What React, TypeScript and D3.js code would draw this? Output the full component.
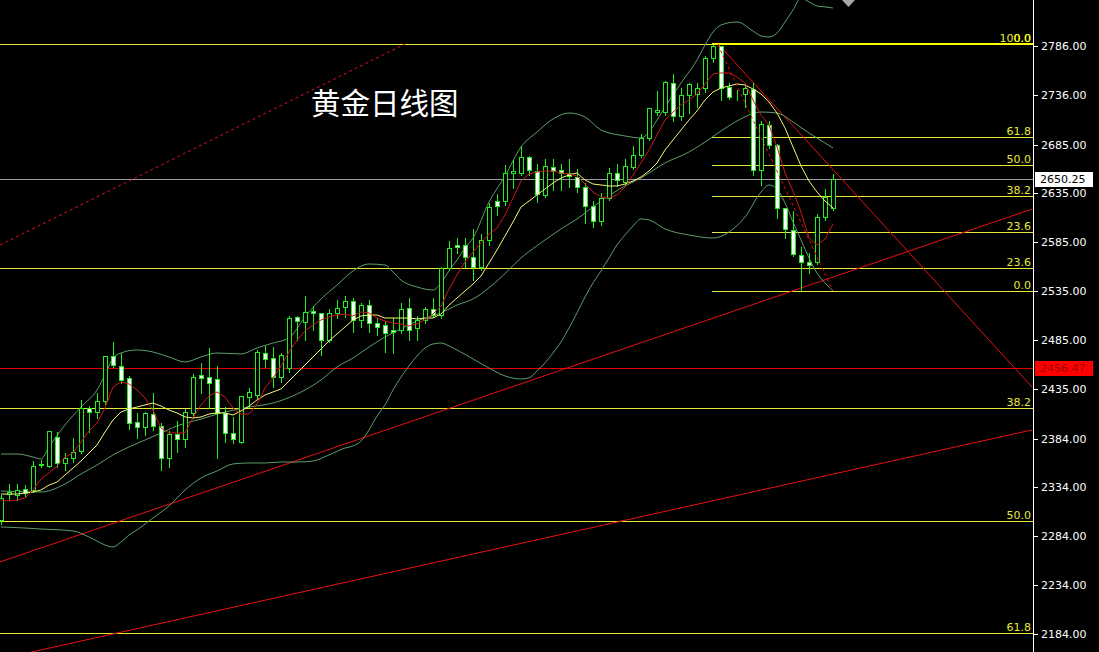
import React from 'react';
import * as d3 from 'd3';

const W = 1099;
const H = 652;
const PLOT_R = 1033;

// ---------- candles (price) ----------
const opens = [
  2300.7, 2327.3, 2326.3, 2332.5, 2331.4, 2357.0, 2356.0, 2385.7, 2359.1, 2364.2,
  2371.4, 2415.4, 2411.3, 2422.6, 2468.6, 2458.4, 2446.1, 2401.1, 2395.9, 2409.2,
  2397.0, 2364.2, 2388.8, 2383.7, 2410.3, 2449.2, 2447.1, 2445.1, 2410.3, 2389.8,
  2380.6, 2426.7, 2428.7, 2471.7, 2466.6, 2447.1, 2456.3, 2508.6, 2503.4, 2514.7,
  2512.7, 2485.0, 2512.7, 2518.8, 2524.9, 2505.5, 2520.8, 2502.4, 2500.4, 2495.2,
  2495.2, 2517.8, 2497.3, 2505.5, 2516.7, 2510.6, 2558.7, 2582.3, 2582.3, 2570.0,
  2559.7, 2587.4, 2627.3, 2627.3, 2656.0, 2656.0, 2672.4, 2658.0, 2633.5, 2662.1,
  2659.1, 2656.0, 2651.9, 2641.6, 2622.2, 2606.8, 2630.4, 2656.0, 2646.8, 2662.1,
  2674.4, 2691.8, 2718.4, 2718.4, 2748.1, 2714.3, 2735.8, 2736.9, 2743.0, 2773.7,
  2786.0, 2744.0, 2736.9, 2736.9, 2742.0, 2659.1, 2705.1, 2684.6, 2620.2, 2597.6,
  2572.0, 2564.9, 2564.9, 2610.9, 2620.2,
];
const highs = [
  2327.3, 2338.6, 2338.6, 2337.6, 2362.2, 2363.2, 2392.9, 2391.8, 2370.3, 2385.7,
  2424.6, 2418.5, 2431.8, 2469.7, 2484.0, 2472.7, 2449.2, 2411.3, 2412.3, 2431.8,
  2401.1, 2392.9, 2403.1, 2415.4, 2451.2, 2462.5, 2477.8, 2459.4, 2417.4, 2407.2,
  2428.7, 2436.9, 2475.8, 2479.9, 2478.9, 2472.7, 2510.6, 2510.6, 2531.1, 2520.8,
  2513.7, 2517.8, 2527.0, 2531.1, 2529.0, 2523.9, 2527.0, 2508.6, 2505.5, 2508.6,
  2523.9, 2529.0, 2510.6, 2519.8, 2529.0, 2560.8, 2587.4, 2590.5, 2590.5, 2599.7,
  2594.6, 2626.3, 2635.5, 2665.2, 2670.3, 2684.6, 2674.4, 2666.2, 2671.3, 2671.3,
  2666.2, 2671.3, 2661.1, 2646.8, 2628.3, 2636.5, 2662.1, 2666.2, 2671.3, 2684.6,
  2696.9, 2723.6, 2741.0, 2751.2, 2758.4, 2744.0, 2749.1, 2749.1, 2776.8, 2788.1,
  2787.0, 2749.1, 2742.0, 2748.1, 2749.1, 2710.2, 2710.2, 2686.7, 2621.2, 2618.1,
  2581.2, 2575.1, 2615.0, 2640.6, 2656.0,
];
const lows = [
  2296.6, 2321.2, 2321.2, 2324.3, 2329.4, 2355.0, 2355.0, 2355.0, 2351.9, 2360.1,
  2369.3, 2390.8, 2405.2, 2419.5, 2457.4, 2441.0, 2393.9, 2384.7, 2387.7, 2392.9,
  2351.9, 2355.0, 2370.3, 2375.5, 2405.2, 2430.7, 2415.4, 2364.2, 2380.6, 2379.6,
  2379.6, 2416.4, 2425.6, 2457.4, 2436.9, 2442.0, 2452.2, 2485.0, 2485.0, 2495.2,
  2469.7, 2483.0, 2507.5, 2508.6, 2493.2, 2498.3, 2493.2, 2490.1, 2472.7, 2471.7,
  2492.2, 2485.0, 2485.0, 2502.4, 2508.6, 2507.5, 2556.7, 2574.1, 2559.7, 2546.4,
  2556.7, 2582.3, 2613.0, 2623.2, 2640.6, 2653.9, 2653.9, 2626.3, 2631.4, 2638.6,
  2638.6, 2641.6, 2636.5, 2604.8, 2600.7, 2602.7, 2628.3, 2642.7, 2643.7, 2660.1,
  2672.4, 2689.8, 2715.4, 2715.4, 2709.2, 2710.2, 2717.4, 2723.6, 2738.9, 2769.6,
  2730.7, 2731.7, 2730.7, 2723.6, 2653.9, 2643.7, 2681.6, 2609.9, 2589.4, 2571.0,
  2536.2, 2553.6, 2562.8, 2607.9, 2618.1,
];
const closes = [
  2323.2, 2329.4, 2331.4, 2328.4, 2356.0, 2358.1, 2391.8, 2359.1, 2364.2, 2370.3,
  2415.4, 2411.3, 2422.6, 2468.6, 2459.4, 2444.1, 2400.0, 2395.9, 2410.3, 2397.0,
  2364.2, 2388.8, 2383.7, 2411.3, 2447.1, 2446.1, 2441.0, 2410.3, 2389.8, 2383.7,
  2427.7, 2431.8, 2472.7, 2465.6, 2447.1, 2469.7, 2507.5, 2504.5, 2513.7, 2512.7,
  2485.0, 2512.7, 2517.8, 2524.9, 2505.5, 2520.8, 2502.4, 2498.3, 2492.2, 2493.2,
  2516.7, 2495.2, 2505.5, 2516.7, 2510.6, 2558.7, 2579.2, 2580.2, 2570.0, 2559.7,
  2587.4, 2621.2, 2622.2, 2656.0, 2658.0, 2672.4, 2659.1, 2634.5, 2663.2, 2658.0,
  2656.0, 2652.9, 2641.6, 2622.2, 2606.8, 2630.4, 2656.0, 2648.8, 2663.2, 2674.4,
  2691.8, 2722.5, 2720.5, 2749.1, 2714.3, 2735.8, 2747.1, 2743.0, 2773.7, 2786.0,
  2743.0, 2733.8, 2736.5, 2743.0, 2659.1, 2706.2, 2684.6, 2620.2, 2598.7, 2573.1,
  2564.9, 2561.8, 2610.9, 2631.4, 2650.25,
];

// ---------- indicator lines ----------
const maRed = [
  2321.2, 2320.2, 2321.2, 2323.2, 2331.4, 2342.7, 2348.9, 2356.0, 2365.2, 2369.3,
  2380.6, 2391.8, 2400.0, 2415.4, 2436.9, 2442.0, 2440.0, 2433.8, 2425.6, 2413.3,
  2394.9, 2389.8, 2389.8, 2389.8, 2405.2, 2418.5, 2427.7, 2431.8, 2426.7, 2415.4,
  2409.2, 2409.2, 2419.5, 2435.9, 2446.1, 2458.4, 2472.7, 2485.0, 2494.2, 2500.4,
  2505.5, 2508.6, 2510.6, 2511.6, 2509.6, 2513.7, 2512.7, 2507.5, 2504.5, 2502.4,
  2501.4, 2499.3, 2501.4, 2505.5, 2511.6, 2519.8, 2537.2, 2551.6, 2564.9, 2575.1,
  2584.3, 2593.5, 2599.7, 2613.0, 2630.4, 2647.8, 2655.0, 2657.0, 2658.0, 2658.0,
  2656.0, 2655.0, 2652.9, 2644.7, 2636.5, 2631.4, 2630.4, 2633.5, 2641.6, 2653.9,
  2666.2, 2679.5, 2694.9, 2710.2, 2718.4, 2725.6, 2730.7, 2736.9, 2747.1, 2757.3,
  2758.4, 2758.4, 2754.3, 2748.1, 2730.7, 2715.4, 2705.1, 2682.6, 2656.0, 2637.5,
  2616.0, 2589.4, 2582.3, 2588.4, 2603.8,
];
const maYellow = [
  2327.3, 2327.3, 2327.3, 2328.4, 2329.4, 2331.4, 2336.5, 2339.6, 2346.8, 2353.9,
  2361.1, 2369.3, 2377.5, 2390.8, 2403.1, 2411.3, 2414.4, 2416.4, 2418.5, 2420.5,
  2417.4, 2413.3, 2410.3, 2406.2, 2405.2, 2406.2, 2409.2, 2410.3, 2410.3, 2408.2,
  2412.3, 2417.4, 2423.6, 2428.7, 2431.8, 2434.9, 2443.0, 2451.2, 2459.4, 2467.6,
  2475.8, 2484.0, 2491.2, 2498.3, 2505.5, 2509.6, 2510.6, 2510.6, 2507.5, 2507.5,
  2507.5, 2507.5, 2506.5, 2507.5, 2507.5, 2511.6, 2520.8, 2528.0, 2535.2, 2542.3,
  2550.5, 2563.8, 2577.2, 2591.5, 2605.8, 2621.2, 2627.3, 2633.5, 2639.6, 2645.7,
  2650.9, 2653.9, 2656.0, 2648.8, 2644.7, 2643.7, 2642.7, 2642.7, 2644.7, 2647.8,
  2651.9, 2658.0, 2666.2, 2679.5, 2689.8, 2700.0, 2710.2, 2719.5, 2730.7, 2738.9,
  2743.0, 2745.1, 2747.1, 2746.1, 2742.0, 2736.9, 2728.7, 2717.4, 2702.1, 2682.6,
  2663.2, 2647.8, 2636.5, 2627.3, 2620.2,
];
// Bollinger bands: [candle index, price]
const bbMid: [number, number][] = [
  [0, 2330.4], [5, 2329.4], [8, 2337.6], [10, 2347.8], [12, 2357.0], [14, 2367.3], [16, 2375.5],
  [18, 2382.6], [20, 2389.8], [22, 2397.0], [25, 2404.1], [28, 2411.3], [31, 2416.4], [34, 2420.5],
  [37, 2429.7], [40, 2444.1], [42, 2457.4], [44, 2466.6], [46, 2477.8], [48, 2488.1], [50, 2496.3],
  [52, 2504.5], [55, 2512.7], [57, 2520.8], [59, 2527.0], [62, 2545.4], [65, 2569.0], [68, 2587.4],
  [70, 2598.7], [72, 2608.9], [75, 2627.3], [78, 2642.7], [80, 2650.9], [83, 2666.2], [86, 2677.5],
  [88, 2687.7], [90, 2699.0], [92, 2709.2], [95, 2718.4], [97, 2717.4], [99, 2708.2], [101, 2696.9],
  [103, 2686.7], [104, 2681.6],
];
const bbUpper: [number, number][] = [
  [0, 2368.3], [2, 2368.3], [4, 2365.2], [5, 2363.2], [6, 2375.5], [8, 2398.0], [10, 2416.4],
  [12, 2433.8], [13, 2449.2], [14, 2466.6], [15, 2471.7], [17, 2474.8], [19, 2472.7], [21, 2467.6],
  [23, 2462.5], [25, 2467.6], [27, 2471.7], [30, 2470.7], [32, 2476.8], [34, 2481.9], [36, 2487.1],
  [38, 2508.6], [40, 2527.0], [42, 2541.3], [44, 2555.7], [46, 2562.8], [48, 2561.8], [49, 2554.6],
  [50, 2546.4], [52, 2539.3], [54, 2536.2], [55, 2543.4], [56, 2555.7], [57, 2566.9], [58, 2579.2],
  [59, 2589.4], [61, 2626.3], [63, 2652.9], [65, 2682.6], [67, 2697.9], [69, 2711.3], [71, 2717.4],
  [73, 2713.3], [75, 2700.0], [78, 2693.9], [80, 2691.8], [81, 2697.9], [82, 2710.2], [83, 2723.6],
  [85, 2748.1], [87, 2771.7], [88, 2787.0], [89, 2800.3], [90, 2807.5], [92, 2810.6], [94, 2801.4],
  [95, 2796.3], [96, 2795.2], [97, 2799.3], [98, 2810.6], [99, 2822.9], [100, 2835.1], [101, 2831.1],
  [102, 2827.0], [103, 2826.0], [104, 2824.9],
];
const bbLower: [number, number][] = [
  [0, 2293.6], [3, 2292.5], [5, 2291.5], [9, 2289.5], [11, 2283.3], [12, 2279.2], [13, 2275.1],
  [14, 2273.1], [15, 2278.2], [16, 2285.4], [17, 2290.5], [19, 2302.8], [21, 2315.1], [23, 2331.4],
  [25, 2343.7], [27, 2350.9], [29, 2358.1], [31, 2359.1], [33, 2359.1], [35, 2360.1], [37, 2360.1],
  [39, 2361.1], [41, 2367.3], [43, 2374.4], [44, 2376.5], [45, 2381.6], [46, 2392.9], [47, 2407.2],
  [48, 2418.5], [49, 2433.8], [50, 2447.1], [51, 2458.4], [52, 2468.6], [53, 2476.8], [54, 2480.9],
  [55, 2481.9], [56, 2478.9], [57, 2474.8], [59, 2465.6], [61, 2456.3], [63, 2448.2], [65, 2445.1],
  [66, 2446.1], [67, 2453.3], [68, 2461.5], [69, 2471.7], [70, 2483.0], [71, 2497.3], [72, 2512.7],
  [73, 2529.0], [74, 2543.4], [75, 2555.7], [76, 2569.0], [77, 2582.3], [78, 2592.5], [79, 2601.7],
  [80, 2608.9], [81, 2607.9], [83, 2598.7], [86, 2592.5], [89, 2589.4], [91, 2595.6], [93, 2610.9],
  [95, 2636.5], [96, 2643.7], [97, 2639.6], [98, 2625.3], [99, 2605.8], [100, 2587.4], [101, 2569.0],
  [102, 2553.6], [103, 2543.4], [104, 2535.2],
];

// ---------- drawn objects ----------
// trend lines: [[index, price], [index, price]]
const trendSolid: [number, number][][] = [
  [[-0.125, 2257.7], [128.875, 2619.1]],
  [[-0.125, 2158.4], [128.875, 2392.9]],
  [[89.625, 2788.1], [128.875, 2436.9]],
];
const trendDotted: [number, number][] = [[-0.125, 2582.3], [50.5, 2788.1]];
const trendDashed: [number, number][] = [[89.625, 2787.0], [104, 2535.2]];

const longFibLabels = ['0.0', '23.6', '38.2', '50.0', '61.8'];
const longFibPrices = [2788.1, 2558.7, 2415.4, 2299.7, 2185.0];
const shortFibLabels = ['100.0', '61.8', '50.0', '38.2', '23.6', '0.0'];
const shortFibPrices = [2788.1, 2692.8, 2664.2, 2632.4, 2595.6, 2535.2];
const shortFibStart = 88.875;

const tickValues = [2786, 2736, 2685, 2635, 2585, 2535, 2485, 2435, 2384, 2334, 2284, 2234, 2184];
const currentPrice = 2650.25;
const alertPrice = 2456.47;
const title = '黄金日线图';

// ---------- styles ----------
const GREEN = '#22ee22';
const BB = '#5c9c68';
const RED_MA = '#cc1818';
const YEL_MA = '#f6f67a';
const FIB = '#e8e836';
const TREND = '#e81010';
const FONT = 'DejaVu Sans, Verdana, sans-serif';

export default function App() {
  const x = d3.scaleLinear().domain([0, 104]).range([1, 833]);
  const y = d3.scaleLinear().domain([2184, 2786]).range([634, 46]);
  const py = (v: number) => Math.round(y(v)) + 0.5;

  const lineArr = d3.line<number>().x((_, i) => x(i)).y((d) => y(d));
  const linePts = d3
    .line<[number, number]>()
    .x((d) => x(d[0]))
    .y((d) => y(d[1]))
    .curve(d3.curveMonotoneX);
  const seg = d3.line<[number, number]>().x((d) => x(d[0])).y((d) => y(d[1]));

  const candles = opens.map((o, i) => {
    const c = closes[i];
    const col = Math.round(x(i));
    const cx = col + 0.5;
    const top = py(Math.max(o, c));
    const bot = py(Math.min(o, c));
    const bull = c >= o;
    return (
      <g key={i} shapeRendering="crispEdges">
        <line x1={cx} x2={cx} y1={py(highs[i])} y2={py(lows[i])} stroke={GREEN} strokeWidth={1} />
        <rect
          x={cx - 2}
          y={top}
          width={4}
          height={Math.max(bot - top, 0)}
          fill={bull ? '#000' : '#ffffff'}
          stroke={GREEN}
          strokeWidth={1}
        />
      </g>
    );
  });

  return (
    <svg
      width={W}
      height={H}
      style={{ position: 'fixed', left: 0, top: 0, display: 'block', background: '#000' }}
    >
      <defs>
        <clipPath id="plot">
          <rect x={0} y={0} width={PLOT_R} height={H} />
        </clipPath>
      </defs>
      <rect x={0} y={0} width={W} height={H} fill="#000" />

      <g clipPath="url(#plot)">
        {/* long fib levels */}
        {longFibPrices.map((p, i) => (
          <line key={'lf' + i} x1={0} x2={PLOT_R} y1={py(p)} y2={py(p)} stroke={FIB} strokeWidth={1} shapeRendering="crispEdges" />
        ))}
        {/* short fib levels */}
        {shortFibPrices.map((p, i) => (
          <line
            key={'sf' + i}
            x1={x(shortFibStart)}
            x2={PLOT_R}
            y1={i === 0 ? py(p) - 0.5 : py(p)}
            y2={i === 0 ? py(p) - 0.5 : py(p)}
            stroke={i === 0 ? '#ffff00' : FIB}
            strokeWidth={i === 0 ? 2 : 1}
            shapeRendering="crispEdges"
          />
        ))}
        {/* current price line */}
        <line x1={0} x2={PLOT_R} y1={py(currentPrice)} y2={py(currentPrice)} stroke="#9a9aa4" strokeWidth={1} shapeRendering="crispEdges" />
        {/* alert line */}
        <line x1={0} x2={PLOT_R} y1={py(alertPrice)} y2={py(alertPrice)} stroke="#e00000" strokeWidth={1} shapeRendering="crispEdges" />

        {/* trend lines */}
        {trendSolid.map((t, i) => (
          <path key={'ts' + i} d={seg(t) || ''} stroke={TREND} strokeWidth={1} fill="none" />
        ))}
        <path d={seg(trendDotted) || ''} stroke={TREND} strokeWidth={1} strokeDasharray="3 3" fill="none" />

        {/* Bollinger */}
        <path d={linePts(bbUpper) || ''} stroke={BB} strokeWidth={1} fill="none" />
        <path d={linePts(bbMid) || ''} stroke={BB} strokeWidth={1} fill="none" />
        <path d={linePts(bbLower) || ''} stroke={BB} strokeWidth={1} fill="none" />

        {/* candles */}
        {candles}

        {/* moving averages */}
        <path d={lineArr(maYellow) || ''} stroke={YEL_MA} strokeWidth={1} fill="none" />
        <path d={lineArr(maRed) || ''} stroke={RED_MA} strokeWidth={1} fill="none" />

        <path d={seg(trendDashed) || ''} stroke={TREND} strokeWidth={1} strokeDasharray="3 3" fill="none" />
      </g>

      {/* small marker at top */}
      <polygon points="842,0 855,0 848.5,7" fill="#a8a8a8" />

      {/* fib labels */}
      {longFibPrices.map((p, i) =>
        i === 0 ? null : (
          <text key={'lfl' + i} x={1031} y={py(p) - 2.5} textAnchor="end" fill={FIB} fontFamily={FONT} fontSize={11}>
            {longFibLabels[i]}
          </text>
        )
      )}
      {shortFibPrices.map((p, i) => (
        <text key={'sfl' + i} x={1031} y={py(p) - 2.5} textAnchor="end" fill={FIB} fontFamily={FONT} fontSize={11}>
          {shortFibLabels[i]}
        </text>
      ))}
      <text x={1031} y={py(longFibPrices[0]) - 2.5} textAnchor="end" fill="#ffff00" fontFamily={FONT} fontSize={11}>
        {longFibLabels[0]}
      </text>

      {/* title */}
      <text x={311} y={114} fill="#ffffff" fontFamily="Noto Sans CJK SC, sans-serif" fontSize={29.5}>
        {title}
      </text>

      {/* axis */}
      <line x1={PLOT_R + 0.5} x2={PLOT_R + 0.5} y1={0} y2={H} stroke="#ffffff" strokeWidth={1} shapeRendering="crispEdges" />
      {tickValues.map((v) => (
        <g key={'t' + v}>
          <line x1={PLOT_R} x2={PLOT_R + 5} y1={py(v)} y2={py(v)} stroke="#ffffff" shapeRendering="crispEdges" />
          <text x={1041} y={y(v) + 4} fill="#ffffff" fontFamily={FONT} fontSize={11}>
            {v.toFixed(2)}
          </text>
        </g>
      ))}

      {/* price tags */}
      <rect x={1035} y={Math.round(y(currentPrice)) - 7} width={58} height={15} fill="#ffffff" />
      <text x={1040} y={y(currentPrice) + 4.5} fill="#000000" fontFamily={FONT} fontSize={11}>
        {currentPrice.toFixed(2)}
      </text>
      <rect x={1035} y={Math.round(y(alertPrice)) - 7} width={58} height={15} fill="#ff0000" />
      <text x={1040} y={y(alertPrice) + 4.5} fill="#a00000" fontFamily={FONT} fontSize={11}>
        {alertPrice.toFixed(2)}
      </text>
    </svg>
  );
}
